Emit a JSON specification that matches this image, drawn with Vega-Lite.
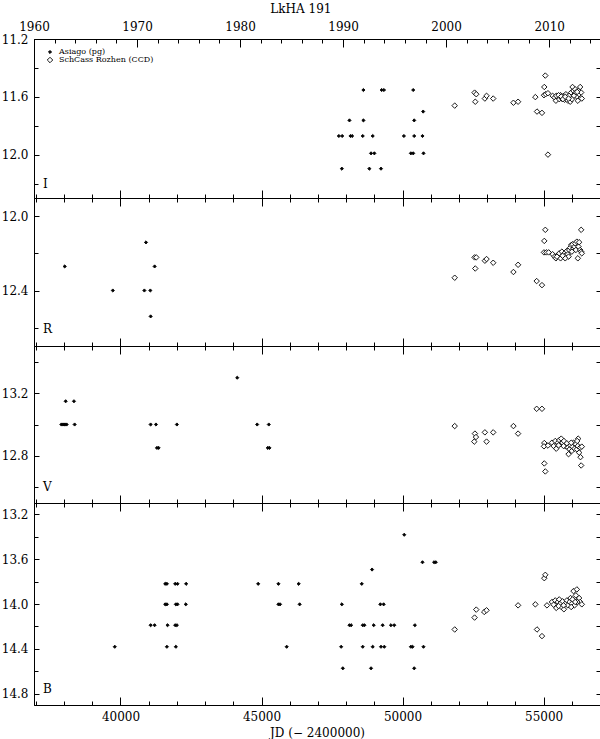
{
  "$schema": "https://vega.github.io/schema/vega-lite/v6.json",
  "title": {"text": "LkHA 191", "font": "DejaVu Serif", "fontSize": 12, "fontWeight": "normal", "color": "black", "anchor": "middle", "offset": 0},
  "padding": {"left": 0, "top": 2, "right": 2, "bottom": 0},
  "datasets": {
    "phot": [
      {"jd":48613,"mag":11.553,"band":"I","source":"Asiago (pg)"},
      {"jd":49260,"mag":11.553,"band":"I","source":"Asiago (pg)"},
      {"jd":49342,"mag":11.553,"band":"I","source":"Asiago (pg)"},
      {"jd":50378,"mag":11.553,"band":"I","source":"Asiago (pg)"},
      {"jd":48118,"mag":11.763,"band":"I","source":"Asiago (pg)"},
      {"jd":48613,"mag":11.763,"band":"I","source":"Asiago (pg)"},
      {"jd":50413,"mag":11.763,"band":"I","source":"Asiago (pg)"},
      {"jd":50731,"mag":11.702,"band":"I","source":"Asiago (pg)"},
      {"jd":47742,"mag":11.871,"band":"I","source":"Asiago (pg)"},
      {"jd":47860,"mag":11.871,"band":"I","source":"Asiago (pg)"},
      {"jd":48154,"mag":11.871,"band":"I","source":"Asiago (pg)"},
      {"jd":48213,"mag":11.871,"band":"I","source":"Asiago (pg)"},
      {"jd":48589,"mag":11.871,"band":"I","source":"Asiago (pg)"},
      {"jd":48942,"mag":11.871,"band":"I","source":"Asiago (pg)"},
      {"jd":50048,"mag":11.871,"band":"I","source":"Asiago (pg)"},
      {"jd":50413,"mag":11.871,"band":"I","source":"Asiago (pg)"},
      {"jd":50707,"mag":11.871,"band":"I","source":"Asiago (pg)"},
      {"jd":48883,"mag":11.991,"band":"I","source":"Asiago (pg)"},
      {"jd":49001,"mag":11.991,"band":"I","source":"Asiago (pg)"},
      {"jd":50295,"mag":11.991,"band":"I","source":"Asiago (pg)"},
      {"jd":50378,"mag":11.991,"band":"I","source":"Asiago (pg)"},
      {"jd":50743,"mag":11.991,"band":"I","source":"Asiago (pg)"},
      {"jd":47848,"mag":12.097,"band":"I","source":"Asiago (pg)"},
      {"jd":48824,"mag":12.097,"band":"I","source":"Asiago (pg)"},
      {"jd":49236,"mag":12.097,"band":"I","source":"Asiago (pg)"},

      {"jd":51849,"mag":11.661,"band":"I","source":"SchCass Rozhen (CCD)"},
      {"jd":52554,"mag":11.571,"band":"I","source":"SchCass Rozhen (CCD)"},
      {"jd":52613,"mag":11.582,"band":"I","source":"SchCass Rozhen (CCD)"},
      {"jd":52578,"mag":11.634,"band":"I","source":"SchCass Rozhen (CCD)"},
      {"jd":52919,"mag":11.612,"band":"I","source":"SchCass Rozhen (CCD)"},
      {"jd":52978,"mag":11.593,"band":"I","source":"SchCass Rozhen (CCD)"},
      {"jd":53214,"mag":11.612,"band":"I","source":"SchCass Rozhen (CCD)"},
      {"jd":53931,"mag":11.641,"band":"I","source":"SchCass Rozhen (CCD)"},
      {"jd":54096,"mag":11.634,"band":"I","source":"SchCass Rozhen (CCD)"},
      {"jd":54708,"mag":11.602,"band":"I","source":"SchCass Rozhen (CCD)"},
      {"jd":54767,"mag":11.702,"band":"I","source":"SchCass Rozhen (CCD)"},
      {"jd":54943,"mag":11.711,"band":"I","source":"SchCass Rozhen (CCD)"},
      {"jd":55061,"mag":11.453,"band":"I","source":"SchCass Rozhen (CCD)"},
      {"jd":55025,"mag":11.532,"band":"I","source":"SchCass Rozhen (CCD)"},
      {"jd":55014,"mag":11.589,"band":"I","source":"SchCass Rozhen (CCD)"},
      {"jd":55073,"mag":11.582,"band":"I","source":"SchCass Rozhen (CCD)"},
      {"jd":55155,"mag":11.575,"band":"I","source":"SchCass Rozhen (CCD)"},
      {"jd":55155,"mag":12.0,"band":"I","source":"SchCass Rozhen (CCD)"},
      {"jd":55320,"mag":11.593,"band":"I","source":"SchCass Rozhen (CCD)"},
      {"jd":55390,"mag":11.605,"band":"I","source":"SchCass Rozhen (CCD)"},
      {"jd":55437,"mag":11.627,"band":"I","source":"SchCass Rozhen (CCD)"},
      {"jd":55508,"mag":11.598,"band":"I","source":"SchCass Rozhen (CCD)"},
      {"jd":55555,"mag":11.616,"band":"I","source":"SchCass Rozhen (CCD)"},
      {"jd":55602,"mag":11.589,"band":"I","source":"SchCass Rozhen (CCD)"},
      {"jd":55649,"mag":11.612,"band":"I","source":"SchCass Rozhen (CCD)"},
      {"jd":55708,"mag":11.593,"band":"I","source":"SchCass Rozhen (CCD)"},
      {"jd":55743,"mag":11.62,"band":"I","source":"SchCass Rozhen (CCD)"},
      {"jd":55790,"mag":11.582,"band":"I","source":"SchCass Rozhen (CCD)"},
      {"jd":55826,"mag":11.605,"band":"I","source":"SchCass Rozhen (CCD)"},
      {"jd":55861,"mag":11.627,"band":"I","source":"SchCass Rozhen (CCD)"},
      {"jd":55908,"mag":11.593,"band":"I","source":"SchCass Rozhen (CCD)"},
      {"jd":55944,"mag":11.634,"band":"I","source":"SchCass Rozhen (CCD)"},
      {"jd":55979,"mag":11.57,"band":"I","source":"SchCass Rozhen (CCD)"},
      {"jd":56026,"mag":11.532,"band":"I","source":"SchCass Rozhen (CCD)"},
      {"jd":56061,"mag":11.559,"band":"I","source":"SchCass Rozhen (CCD)"},
      {"jd":56096,"mag":11.582,"band":"I","source":"SchCass Rozhen (CCD)"},
      {"jd":56120,"mag":11.548,"band":"I","source":"SchCass Rozhen (CCD)"},
      {"jd":56144,"mag":11.57,"band":"I","source":"SchCass Rozhen (CCD)"},
      {"jd":56179,"mag":11.598,"band":"I","source":"SchCass Rozhen (CCD)"},
      {"jd":56214,"mag":11.627,"band":"I","source":"SchCass Rozhen (CCD)"},
      {"jd":56238,"mag":11.559,"band":"I","source":"SchCass Rozhen (CCD)"},
      {"jd":56261,"mag":11.582,"band":"I","source":"SchCass Rozhen (CCD)"},
      {"jd":56297,"mag":11.532,"band":"I","source":"SchCass Rozhen (CCD)"},
      {"jd":56332,"mag":11.57,"band":"I","source":"SchCass Rozhen (CCD)"},
      {"jd":56355,"mag":11.612,"band":"I","source":"SchCass Rozhen (CCD)"},
      {"jd":56191,"mag":11.566,"band":"I","source":"SchCass Rozhen (CCD)"},
      {"jd":56073,"mag":11.593,"band":"I","source":"SchCass Rozhen (CCD)"},
      {"jd":56002,"mag":11.616,"band":"I","source":"SchCass Rozhen (CCD)"},
      {"jd":55449,"mag":11.593,"band":"I","source":"SchCass Rozhen (CCD)"},
      {"jd":55531,"mag":11.589,"band":"I","source":"SchCass Rozhen (CCD)"},
      {"jd":55626,"mag":11.598,"band":"I","source":"SchCass Rozhen (CCD)"},
      {"jd":55685,"mag":11.616,"band":"I","source":"SchCass Rozhen (CCD)"},
      {"jd":55767,"mag":11.6,"band":"I","source":"SchCass Rozhen (CCD)"},
      {"jd":55885,"mag":11.612,"band":"I","source":"SchCass Rozhen (CCD)"},

      {"jd":38023,"mag":12.27,"band":"R","source":"Asiago (pg)"},
      {"jd":39728,"mag":12.40,"band":"R","source":"Asiago (pg)"},
      {"jd":40847,"mag":12.40,"band":"R","source":"Asiago (pg)"},
      {"jd":41059,"mag":12.40,"band":"R","source":"Asiago (pg)"},
      {"jd":40904,"mag":12.14,"band":"R","source":"Asiago (pg)"},
      {"jd":41211,"mag":12.27,"band":"R","source":"Asiago (pg)"},
      {"jd":41070,"mag":12.54,"band":"R","source":"Asiago (pg)"},

      {"jd":51849,"mag":12.331,"band":"R","source":"SchCass Rozhen (CCD)"},
      {"jd":52554,"mag":12.221,"band":"R","source":"SchCass Rozhen (CCD)"},
      {"jd":52613,"mag":12.221,"band":"R","source":"SchCass Rozhen (CCD)"},
      {"jd":52578,"mag":12.281,"band":"R","source":"SchCass Rozhen (CCD)"},
      {"jd":52919,"mag":12.239,"band":"R","source":"SchCass Rozhen (CCD)"},
      {"jd":52978,"mag":12.23,"band":"R","source":"SchCass Rozhen (CCD)"},
      {"jd":53214,"mag":12.25,"band":"R","source":"SchCass Rozhen (CCD)"},
      {"jd":53931,"mag":12.30,"band":"R","source":"SchCass Rozhen (CCD)"},
      {"jd":54096,"mag":12.261,"band":"R","source":"SchCass Rozhen (CCD)"},
      {"jd":54755,"mag":12.349,"band":"R","source":"SchCass Rozhen (CCD)"},
      {"jd":54943,"mag":12.371,"band":"R","source":"SchCass Rozhen (CCD)"},
      {"jd":55061,"mag":12.072,"band":"R","source":"SchCass Rozhen (CCD)"},
      {"jd":55025,"mag":12.132,"band":"R","source":"SchCass Rozhen (CCD)"},
      {"jd":55014,"mag":12.194,"band":"R","source":"SchCass Rozhen (CCD)"},
      {"jd":55096,"mag":12.194,"band":"R","source":"SchCass Rozhen (CCD)"},
      {"jd":55179,"mag":12.194,"band":"R","source":"SchCass Rozhen (CCD)"},
      {"jd":56332,"mag":12.072,"band":"R","source":"SchCass Rozhen (CCD)"},
      {"jd":55320,"mag":12.204,"band":"R","source":"SchCass Rozhen (CCD)"},
      {"jd":55390,"mag":12.217,"band":"R","source":"SchCass Rozhen (CCD)"},
      {"jd":55437,"mag":12.226,"band":"R","source":"SchCass Rozhen (CCD)"},
      {"jd":55508,"mag":12.208,"band":"R","source":"SchCass Rozhen (CCD)"},
      {"jd":55555,"mag":12.199,"band":"R","source":"SchCass Rozhen (CCD)"},
      {"jd":55602,"mag":12.226,"band":"R","source":"SchCass Rozhen (CCD)"},
      {"jd":55649,"mag":12.19,"band":"R","source":"SchCass Rozhen (CCD)"},
      {"jd":55708,"mag":12.217,"band":"R","source":"SchCass Rozhen (CCD)"},
      {"jd":55743,"mag":12.199,"band":"R","source":"SchCass Rozhen (CCD)"},
      {"jd":55790,"mag":12.208,"band":"R","source":"SchCass Rozhen (CCD)"},
      {"jd":55826,"mag":12.186,"band":"R","source":"SchCass Rozhen (CCD)"},
      {"jd":55861,"mag":12.204,"band":"R","source":"SchCass Rozhen (CCD)"},
      {"jd":55908,"mag":12.181,"band":"R","source":"SchCass Rozhen (CCD)"},
      {"jd":55944,"mag":12.168,"band":"R","source":"SchCass Rozhen (CCD)"},
      {"jd":55979,"mag":12.154,"band":"R","source":"SchCass Rozhen (CCD)"},
      {"jd":56026,"mag":12.15,"band":"R","source":"SchCass Rozhen (CCD)"},
      {"jd":56061,"mag":12.172,"band":"R","source":"SchCass Rozhen (CCD)"},
      {"jd":56096,"mag":12.163,"band":"R","source":"SchCass Rozhen (CCD)"},
      {"jd":56120,"mag":12.145,"band":"R","source":"SchCass Rozhen (CCD)"},
      {"jd":56144,"mag":12.181,"band":"R","source":"SchCass Rozhen (CCD)"},
      {"jd":56179,"mag":12.136,"band":"R","source":"SchCass Rozhen (CCD)"},
      {"jd":56214,"mag":12.226,"band":"R","source":"SchCass Rozhen (CCD)"},
      {"jd":56238,"mag":12.163,"band":"R","source":"SchCass Rozhen (CCD)"},
      {"jd":56261,"mag":12.139,"band":"R","source":"SchCass Rozhen (CCD)"},
      {"jd":56297,"mag":12.181,"band":"R","source":"SchCass Rozhen (CCD)"},
      {"jd":56332,"mag":12.19,"band":"R","source":"SchCass Rozhen (CCD)"},
      {"jd":56355,"mag":12.199,"band":"R","source":"SchCass Rozhen (CCD)"},
      {"jd":56002,"mag":12.19,"band":"R","source":"SchCass Rozhen (CCD)"},
      {"jd":55885,"mag":12.217,"band":"R","source":"SchCass Rozhen (CCD)"},
      {"jd":55767,"mag":12.226,"band":"R","source":"SchCass Rozhen (CCD)"},
      {"jd":55473,"mag":12.217,"band":"R","source":"SchCass Rozhen (CCD)"},
      {"jd":55673,"mag":12.212,"band":"R","source":"SchCass Rozhen (CCD)"},

      {"jd":37904,"mag":13.0,"band":"V","source":"Asiago (pg)"},
      {"jd":37950,"mag":13.0,"band":"V","source":"Asiago (pg)"},
      {"jd":37998,"mag":13.0,"band":"V","source":"Asiago (pg)"},
      {"jd":38045,"mag":13.0,"band":"V","source":"Asiago (pg)"},
      {"jd":38092,"mag":13.0,"band":"V","source":"Asiago (pg)"},
      {"jd":38057,"mag":13.148,"band":"V","source":"Asiago (pg)"},
      {"jd":38351,"mag":13.148,"band":"V","source":"Asiago (pg)"},
      {"jd":38375,"mag":13.0,"band":"V","source":"Asiago (pg)"},
      {"jd":41069,"mag":13.0,"band":"V","source":"Asiago (pg)"},
      {"jd":41258,"mag":13.0,"band":"V","source":"Asiago (pg)"},
      {"jd":41293,"mag":12.851,"band":"V","source":"Asiago (pg)"},
      {"jd":41352,"mag":12.851,"band":"V","source":"Asiago (pg)"},
      {"jd":42000,"mag":13.0,"band":"V","source":"Asiago (pg)"},
      {"jd":44140,"mag":13.298,"band":"V","source":"Asiago (pg)"},
      {"jd":44846,"mag":13.0,"band":"V","source":"Asiago (pg)"},
      {"jd":45258,"mag":13.0,"band":"V","source":"Asiago (pg)"},
      {"jd":45223,"mag":12.851,"band":"V","source":"Asiago (pg)"},
      {"jd":45282,"mag":12.851,"band":"V","source":"Asiago (pg)"},

      {"jd":51849,"mag":12.99,"band":"V","source":"SchCass Rozhen (CCD)"},
      {"jd":52566,"mag":12.942,"band":"V","source":"SchCass Rozhen (CCD)"},
      {"jd":52602,"mag":12.92,"band":"V","source":"SchCass Rozhen (CCD)"},
      {"jd":52543,"mag":12.891,"band":"V","source":"SchCass Rozhen (CCD)"},
      {"jd":52919,"mag":12.95,"band":"V","source":"SchCass Rozhen (CCD)"},
      {"jd":52978,"mag":12.891,"band":"V","source":"SchCass Rozhen (CCD)"},
      {"jd":53214,"mag":12.95,"band":"V","source":"SchCass Rozhen (CCD)"},
      {"jd":53931,"mag":12.99,"band":"V","source":"SchCass Rozhen (CCD)"},
      {"jd":54096,"mag":12.942,"band":"V","source":"SchCass Rozhen (CCD)"},
      {"jd":54755,"mag":13.1,"band":"V","source":"SchCass Rozhen (CCD)"},
      {"jd":54943,"mag":13.1,"band":"V","source":"SchCass Rozhen (CCD)"},
      {"jd":55025,"mag":12.882,"band":"V","source":"SchCass Rozhen (CCD)"},
      {"jd":55014,"mag":12.861,"band":"V","source":"SchCass Rozhen (CCD)"},
      {"jd":55025,"mag":12.752,"band":"V","source":"SchCass Rozhen (CCD)"},
      {"jd":55061,"mag":12.701,"band":"V","source":"SchCass Rozhen (CCD)"},
      {"jd":55155,"mag":12.866,"band":"V","source":"SchCass Rozhen (CCD)"},
      {"jd":56332,"mag":12.739,"band":"V","source":"SchCass Rozhen (CCD)"},
      {"jd":56308,"mag":12.792,"band":"V","source":"SchCass Rozhen (CCD)"},
      {"jd":55885,"mag":12.811,"band":"V","source":"SchCass Rozhen (CCD)"},
      {"jd":56226,"mag":12.91,"band":"V","source":"SchCass Rozhen (CCD)"},
      {"jd":55296,"mag":12.884,"band":"V","source":"SchCass Rozhen (CCD)"},
      {"jd":55355,"mag":12.863,"band":"V","source":"SchCass Rozhen (CCD)"},
      {"jd":55414,"mag":12.895,"band":"V","source":"SchCass Rozhen (CCD)"},
      {"jd":55449,"mag":12.846,"band":"V","source":"SchCass Rozhen (CCD)"},
      {"jd":55508,"mag":12.884,"band":"V","source":"SchCass Rozhen (CCD)"},
      {"jd":55555,"mag":12.901,"band":"V","source":"SchCass Rozhen (CCD)"},
      {"jd":55590,"mag":12.874,"band":"V","source":"SchCass Rozhen (CCD)"},
      {"jd":55626,"mag":12.91,"band":"V","source":"SchCass Rozhen (CCD)"},
      {"jd":55673,"mag":12.884,"band":"V","source":"SchCass Rozhen (CCD)"},
      {"jd":55720,"mag":12.895,"band":"V","source":"SchCass Rozhen (CCD)"},
      {"jd":55767,"mag":12.863,"band":"V","source":"SchCass Rozhen (CCD)"},
      {"jd":55826,"mag":12.88,"band":"V","source":"SchCass Rozhen (CCD)"},
      {"jd":55861,"mag":12.853,"band":"V","source":"SchCass Rozhen (CCD)"},
      {"jd":55920,"mag":12.842,"band":"V","source":"SchCass Rozhen (CCD)"},
      {"jd":55955,"mag":12.867,"band":"V","source":"SchCass Rozhen (CCD)"},
      {"jd":56002,"mag":12.832,"band":"V","source":"SchCass Rozhen (CCD)"},
      {"jd":56026,"mag":12.859,"band":"V","source":"SchCass Rozhen (CCD)"},
      {"jd":56061,"mag":12.884,"band":"V","source":"SchCass Rozhen (CCD)"},
      {"jd":56096,"mag":12.846,"band":"V","source":"SchCass Rozhen (CCD)"},
      {"jd":56144,"mag":12.874,"band":"V","source":"SchCass Rozhen (CCD)"},
      {"jd":56179,"mag":12.842,"band":"V","source":"SchCass Rozhen (CCD)"},
      {"jd":56214,"mag":12.863,"band":"V","source":"SchCass Rozhen (CCD)"},
      {"jd":56261,"mag":12.821,"band":"V","source":"SchCass Rozhen (CCD)"},
      {"jd":56297,"mag":12.853,"band":"V","source":"SchCass Rozhen (CCD)"},
      {"jd":56355,"mag":12.859,"band":"V","source":"SchCass Rozhen (CCD)"},
      {"jd":55979,"mag":12.884,"band":"V","source":"SchCass Rozhen (CCD)"},
      {"jd":55708,"mag":12.863,"band":"V","source":"SchCass Rozhen (CCD)"},
      {"jd":55531,"mag":12.867,"band":"V","source":"SchCass Rozhen (CCD)"},
      {"jd":56191,"mag":12.895,"band":"V","source":"SchCass Rozhen (CCD)"},

      {"jd":39798,"mag":14.381,"band":"B","source":"Asiago (pg)"},
      {"jd":41069,"mag":14.189,"band":"B","source":"Asiago (pg)"},
      {"jd":41210,"mag":14.189,"band":"B","source":"Asiago (pg)"},
      {"jd":41587,"mag":13.82,"band":"B","source":"Asiago (pg)"},
      {"jd":41646,"mag":13.82,"band":"B","source":"Asiago (pg)"},
      {"jd":41587,"mag":14.003,"band":"B","source":"Asiago (pg)"},
      {"jd":41646,"mag":14.003,"band":"B","source":"Asiago (pg)"},
      {"jd":41669,"mag":14.189,"band":"B","source":"Asiago (pg)"},
      {"jd":41646,"mag":14.381,"band":"B","source":"Asiago (pg)"},
      {"jd":41940,"mag":13.82,"band":"B","source":"Asiago (pg)"},
      {"jd":42022,"mag":13.82,"band":"B","source":"Asiago (pg)"},
      {"jd":41963,"mag":14.003,"band":"B","source":"Asiago (pg)"},
      {"jd":42022,"mag":14.003,"band":"B","source":"Asiago (pg)"},
      {"jd":41940,"mag":14.189,"band":"B","source":"Asiago (pg)"},
      {"jd":41999,"mag":14.189,"band":"B","source":"Asiago (pg)"},
      {"jd":41963,"mag":14.381,"band":"B","source":"Asiago (pg)"},
      {"jd":42328,"mag":13.82,"band":"B","source":"Asiago (pg)"},
      {"jd":42316,"mag":14.003,"band":"B","source":"Asiago (pg)"},
      {"jd":44882,"mag":13.82,"band":"B","source":"Asiago (pg)"},
      {"jd":45600,"mag":13.82,"band":"B","source":"Asiago (pg)"},
      {"jd":45600,"mag":14.003,"band":"B","source":"Asiago (pg)"},
      {"jd":45658,"mag":14.003,"band":"B","source":"Asiago (pg)"},
      {"jd":45893,"mag":14.381,"band":"B","source":"Asiago (pg)"},
      {"jd":46317,"mag":13.82,"band":"B","source":"Asiago (pg)"},
      {"jd":46352,"mag":14.003,"band":"B","source":"Asiago (pg)"},
      {"jd":47848,"mag":14.003,"band":"B","source":"Asiago (pg)"},
      {"jd":47824,"mag":14.381,"band":"B","source":"Asiago (pg)"},
      {"jd":47883,"mag":14.573,"band":"B","source":"Asiago (pg)"},
      {"jd":48118,"mag":14.189,"band":"B","source":"Asiago (pg)"},
      {"jd":48177,"mag":14.189,"band":"B","source":"Asiago (pg)"},
      {"jd":48554,"mag":13.82,"band":"B","source":"Asiago (pg)"},
      {"jd":48589,"mag":14.189,"band":"B","source":"Asiago (pg)"},
      {"jd":48648,"mag":14.189,"band":"B","source":"Asiago (pg)"},
      {"jd":48589,"mag":14.381,"band":"B","source":"Asiago (pg)"},
      {"jd":48919,"mag":13.693,"band":"B","source":"Asiago (pg)"},
      {"jd":48883,"mag":14.573,"band":"B","source":"Asiago (pg)"},
      {"jd":48942,"mag":14.381,"band":"B","source":"Asiago (pg)"},
      {"jd":48977,"mag":14.189,"band":"B","source":"Asiago (pg)"},
      {"jd":49213,"mag":14.003,"band":"B","source":"Asiago (pg)"},
      {"jd":49330,"mag":14.003,"band":"B","source":"Asiago (pg)"},
      {"jd":49295,"mag":14.189,"band":"B","source":"Asiago (pg)"},
      {"jd":49236,"mag":14.381,"band":"B","source":"Asiago (pg)"},
      {"jd":49354,"mag":14.381,"band":"B","source":"Asiago (pg)"},
      {"jd":49589,"mag":14.189,"band":"B","source":"Asiago (pg)"},
      {"jd":49707,"mag":14.189,"band":"B","source":"Asiago (pg)"},
      {"jd":50060,"mag":13.383,"band":"B","source":"Asiago (pg)"},
      {"jd":50295,"mag":14.381,"band":"B","source":"Asiago (pg)"},
      {"jd":50354,"mag":14.381,"band":"B","source":"Asiago (pg)"},
      {"jd":50437,"mag":14.189,"band":"B","source":"Asiago (pg)"},
      {"jd":50413,"mag":14.573,"band":"B","source":"Asiago (pg)"},
      {"jd":50707,"mag":13.628,"band":"B","source":"Asiago (pg)"},
      {"jd":50742,"mag":14.381,"band":"B","source":"Asiago (pg)"},
      {"jd":51119,"mag":13.628,"band":"B","source":"Asiago (pg)"},
      {"jd":51178,"mag":13.628,"band":"B","source":"Asiago (pg)"},

      {"jd":51849,"mag":14.227,"band":"B","source":"SchCass Rozhen (CCD)"},
      {"jd":52554,"mag":14.121,"band":"B","source":"SchCass Rozhen (CCD)"},
      {"jd":52613,"mag":14.05,"band":"B","source":"SchCass Rozhen (CCD)"},
      {"jd":52896,"mag":14.071,"band":"B","source":"SchCass Rozhen (CCD)"},
      {"jd":52978,"mag":14.056,"band":"B","source":"SchCass Rozhen (CCD)"},
      {"jd":54096,"mag":14.012,"band":"B","source":"SchCass Rozhen (CCD)"},
      {"jd":54708,"mag":14.003,"band":"B","source":"SchCass Rozhen (CCD)"},
      {"jd":54767,"mag":14.227,"band":"B","source":"SchCass Rozhen (CCD)"},
      {"jd":54943,"mag":14.286,"band":"B","source":"SchCass Rozhen (CCD)"},
      {"jd":55025,"mag":13.77,"band":"B","source":"SchCass Rozhen (CCD)"},
      {"jd":55061,"mag":13.74,"band":"B","source":"SchCass Rozhen (CCD)"},
      {"jd":55120,"mag":14.012,"band":"B","source":"SchCass Rozhen (CCD)"},
      {"jd":55296,"mag":13.982,"band":"B","source":"SchCass Rozhen (CCD)"},
      {"jd":55355,"mag":14.006,"band":"B","source":"SchCass Rozhen (CCD)"},
      {"jd":55414,"mag":13.968,"band":"B","source":"SchCass Rozhen (CCD)"},
      {"jd":55449,"mag":14.035,"band":"B","source":"SchCass Rozhen (CCD)"},
      {"jd":55508,"mag":13.982,"band":"B","source":"SchCass Rozhen (CCD)"},
      {"jd":55555,"mag":13.959,"band":"B","source":"SchCass Rozhen (CCD)"},
      {"jd":55590,"mag":13.997,"band":"B","source":"SchCass Rozhen (CCD)"},
      {"jd":55626,"mag":14.027,"band":"B","source":"SchCass Rozhen (CCD)"},
      {"jd":55673,"mag":13.976,"band":"B","source":"SchCass Rozhen (CCD)"},
      {"jd":55720,"mag":14.047,"band":"B","source":"SchCass Rozhen (CCD)"},
      {"jd":55767,"mag":13.997,"band":"B","source":"SchCass Rozhen (CCD)"},
      {"jd":55826,"mag":13.968,"band":"B","source":"SchCass Rozhen (CCD)"},
      {"jd":55861,"mag":14.012,"band":"B","source":"SchCass Rozhen (CCD)"},
      {"jd":55920,"mag":13.982,"band":"B","source":"SchCass Rozhen (CCD)"},
      {"jd":55955,"mag":13.947,"band":"B","source":"SchCass Rozhen (CCD)"},
      {"jd":56002,"mag":13.997,"band":"B","source":"SchCass Rozhen (CCD)"},
      {"jd":56026,"mag":13.959,"band":"B","source":"SchCass Rozhen (CCD)"},
      {"jd":56061,"mag":13.885,"band":"B","source":"SchCass Rozhen (CCD)"},
      {"jd":56096,"mag":14.012,"band":"B","source":"SchCass Rozhen (CCD)"},
      {"jd":56144,"mag":13.923,"band":"B","source":"SchCass Rozhen (CCD)"},
      {"jd":56179,"mag":13.87,"band":"B","source":"SchCass Rozhen (CCD)"},
      {"jd":56214,"mag":13.968,"band":"B","source":"SchCass Rozhen (CCD)"},
      {"jd":56261,"mag":13.947,"band":"B","source":"SchCass Rozhen (CCD)"},
      {"jd":56297,"mag":13.982,"band":"B","source":"SchCass Rozhen (CCD)"},
      {"jd":56355,"mag":14.003,"band":"B","source":"SchCass Rozhen (CCD)"},
      {"jd":55979,"mag":14.027,"band":"B","source":"SchCass Rozhen (CCD)"},
      {"jd":55708,"mag":14.012,"band":"B","source":"SchCass Rozhen (CCD)"},
      {"jd":55531,"mag":14.018,"band":"B","source":"SchCass Rozhen (CCD)"},
      {"jd":56191,"mag":13.982,"band":"B","source":"SchCass Rozhen (CCD)"},
      {"jd":56120,"mag":13.982,"band":"B","source":"SchCass Rozhen (CCD)"}
    ]
  },
  "data": {"name": "phot"},
  "spacing": 0,
  "bounds": "flush",
  "resolve": {"legend": {"fill": "independent", "size": "independent", "stroke": "independent"}},
  "vconcat": [
    {
      "width": 566, "height": 159,
      "resolve": {"axis": {"x": "independent", "y": "independent"}},
      "layer": [
        {
          "transform": [{"filter": "datum.band === 'I'"}],
          "mark": {"type": "point", "shape": "diamond", "filled": true, "strokeWidth": 0.9, "opacity": 1},
          "encoding": {
            "x": {"field": "jd", "type": "quantitative", "scale": {"domain": [36934.5, 57000], "nice": false, "zero": false},
                  "axis": {"orient": "bottom", "values": [37000,38000,39000,40000,41000,42000,43000,44000,45000,46000,47000,48000,49000,50000,51000,52000,53000,54000,55000,56000,57000], "labels": false, "title": null,
                           "tickSize": {"condition": {"test": "datum.value % 5000 === 0", "value": -8}, "value": -4}}},
            "y": {"field": "mag", "type": "quantitative", "scale": {"domain": [11.2, 12.3], "reverse": true, "nice": false, "zero": false},
                  "axis": {"orient": "left", "values": [11.2,11.4,11.6,11.8,12.0,12.2], "title": null, "labelPadding": 11,
                           "labelExpr": "abs(datum.value/0.4 - round(datum.value/0.4)) < 0.01 ? format(datum.value, '.1f') : ''",
                           "tickSize": {"condition": {"test": "abs(datum.value/0.4 - round(datum.value/0.4)) < 0.01", "value": -5}, "value": -4}}},
            "fill": {"field": "source", "type": "nominal", "scale": {"domain": ["Asiago (pg)", "SchCass Rozhen (CCD)"], "range": ["black", "white"]},
                     "legend": {"orient": "none", "legendX": 12, "legendY": 9, "title": null, "labelFontSize": 8, "labelFont": "DejaVu Serif", "labelColor": "black", "rowPadding": -2, "symbolType": "diamond", "symbolStrokeWidth": 0.9, "labelOffset": 5, "padding": 0}},
            "size": {"field": "source", "type": "nominal", "scale": {"domain": ["Asiago (pg)", "SchCass Rozhen (CCD)"], "range": [10, 30]},
                     "legend": {"orient": "none", "legendX": 12, "legendY": 9, "title": null, "labelFontSize": 8, "labelFont": "DejaVu Serif", "labelColor": "black", "rowPadding": -2, "symbolType": "diamond", "symbolStrokeWidth": 0.9, "labelOffset": 5, "padding": 0}},
            "stroke": {"field": "source", "type": "nominal", "scale": {"domain": ["Asiago (pg)", "SchCass Rozhen (CCD)"], "range": ["black", "black"]},
                     "legend": {"orient": "none", "legendX": 12, "legendY": 9, "title": null, "labelFontSize": 8, "labelFont": "DejaVu Serif", "labelColor": "black", "rowPadding": -2, "symbolType": "diamond", "symbolStrokeWidth": 0.9, "labelOffset": 5, "padding": 0}}
          }
        },
        {
          "data": {"values": [{}]},
          "mark": {"type": "text", "align": "left", "baseline": "middle", "fontSize": 12, "font": "DejaVu Serif", "color": "black", "text": "I"},
          "encoding": {
            "x": {"datum": 37250, "type": "quantitative",
                  "axis": {"orient": "top", "values": [36934.5,37665.5,38395.5,39126.5,39856.5,40587.5,41317.5,42048.5,42778.5,43509.5,44239.5,44970.5,45700.5,46431.5,47161.5,47892.5,48622.5,49353.5,50083.5,50814.5,51544.5,52275.5,53005.5,53736.5,54466.5,55197.5,55927.5,56658.5],
                           "title": null, "labelPadding": 14,
                           "labelExpr": "round(1960 + (datum.value - 36934.5)/365.25) % 10 === 0 ? format(round(1960 + (datum.value - 36934.5)/365.25), 'd') : ''",
                           "tickSize": {"condition": {"test": "round(1960 + (datum.value - 36934.5)/365.25) % 10 === 0", "value": -8}, "value": -4}}},
            "y": {"datum": 12.2, "type": "quantitative",
                  "axis": {"orient": "right", "values": [11.2,11.4,11.6,11.8,12.0,12.2], "labels": false, "title": null, "tickSize": -4}}
          }
        }
      ]
    },
    {
      "width": 566, "height": 148,
      "resolve": {"axis": {"x": "independent", "y": "independent"}},
      "layer": [
        {
          "transform": [{"filter": "datum.band === 'R'"}],
          "mark": {"type": "point", "shape": "diamond", "filled": true, "strokeWidth": 0.9, "opacity": 1},
          "encoding": {
            "x": {"field": "jd", "type": "quantitative", "scale": {"domain": [36934.5, 57000], "nice": false, "zero": false},
                  "axis": {"orient": "bottom", "values": [37000,38000,39000,40000,41000,42000,43000,44000,45000,46000,47000,48000,49000,50000,51000,52000,53000,54000,55000,56000,57000], "labels": false, "title": null,
                           "tickSize": {"condition": {"test": "datum.value % 5000 === 0", "value": -8}, "value": -4}}},
            "y": {"field": "mag", "type": "quantitative", "scale": {"domain": [11.9, 12.7], "reverse": true, "nice": false, "zero": false},
                  "axis": {"orient": "left", "values": [12.0,12.2,12.4,12.6], "title": null, "labelPadding": 11,
                           "labelExpr": "abs(datum.value/0.4 - round(datum.value/0.4)) < 0.01 ? format(datum.value, '.1f') : ''",
                           "tickSize": {"condition": {"test": "abs(datum.value/0.4 - round(datum.value/0.4)) < 0.01", "value": -5}, "value": -4}}},
            "fill": {"field": "source", "type": "nominal", "scale": {"domain": ["Asiago (pg)", "SchCass Rozhen (CCD)"], "range": ["black", "white"]}, "legend": null},
            "size": {"field": "source", "type": "nominal", "scale": {"domain": ["Asiago (pg)", "SchCass Rozhen (CCD)"], "range": [10, 30]}, "legend": null},
            "stroke": {"field": "source", "type": "nominal", "scale": {"domain": ["Asiago (pg)", "SchCass Rozhen (CCD)"], "range": ["black", "black"]}, "legend": null}
          }
        },
        {
          "data": {"values": [{}]},
          "mark": {"type": "text", "align": "left", "baseline": "middle", "fontSize": 12, "font": "DejaVu Serif", "color": "black", "text": "R"},
          "encoding": {
            "x": {"datum": 37250, "type": "quantitative",
                  "axis": {"orient": "top", "values": [37000,38000,39000,40000,41000,42000,43000,44000,45000,46000,47000,48000,49000,50000,51000,52000,53000,54000,55000,56000,57000], "labels": false, "title": null,
                           "tickSize": {"condition": {"test": "datum.value % 5000 === 0", "value": -8}, "value": -4}}},
            "y": {"datum": 12.61, "type": "quantitative",
                  "axis": {"orient": "right", "values": [12.0,12.2,12.4,12.6], "labels": false, "title": null, "tickSize": -4}}
          }
        }
      ]
    },
    {
      "width": 566, "height": 157,
      "resolve": {"axis": {"x": "independent", "y": "independent"}},
      "layer": [
        {
          "transform": [{"filter": "datum.band === 'V'"}],
          "mark": {"type": "point", "shape": "diamond", "filled": true, "strokeWidth": 0.9, "opacity": 1},
          "encoding": {
            "x": {"field": "jd", "type": "quantitative", "scale": {"domain": [36934.5, 57000], "nice": false, "zero": false},
                  "axis": {"orient": "bottom", "values": [37000,38000,39000,40000,41000,42000,43000,44000,45000,46000,47000,48000,49000,50000,51000,52000,53000,54000,55000,56000,57000], "labels": false, "title": null,
                           "tickSize": {"condition": {"test": "datum.value % 5000 === 0", "value": -8}, "value": -4}}},
            "y": {"field": "mag", "type": "quantitative", "scale": {"domain": [12.5, 13.5], "nice": false, "zero": false},
                  "axis": {"orient": "left", "values": [12.6,12.8,13.0,13.2,13.4], "title": null, "labelPadding": 11,
                           "labelExpr": "abs(datum.value/0.4 - round(datum.value/0.4)) < 0.01 ? format(datum.value, '.1f') : ''",
                           "tickSize": {"condition": {"test": "abs(datum.value/0.4 - round(datum.value/0.4)) < 0.01", "value": -5}, "value": -4}}},
            "fill": {"field": "source", "type": "nominal", "scale": {"domain": ["Asiago (pg)", "SchCass Rozhen (CCD)"], "range": ["black", "white"]}, "legend": null},
            "size": {"field": "source", "type": "nominal", "scale": {"domain": ["Asiago (pg)", "SchCass Rozhen (CCD)"], "range": [10, 30]}, "legend": null},
            "stroke": {"field": "source", "type": "nominal", "scale": {"domain": ["Asiago (pg)", "SchCass Rozhen (CCD)"], "range": ["black", "black"]}, "legend": null}
          }
        },
        {
          "data": {"values": [{}]},
          "mark": {"type": "text", "align": "left", "baseline": "middle", "fontSize": 12, "font": "DejaVu Serif", "color": "black", "text": "V"},
          "encoding": {
            "x": {"datum": 37250, "type": "quantitative",
                  "axis": {"orient": "top", "values": [37000,38000,39000,40000,41000,42000,43000,44000,45000,46000,47000,48000,49000,50000,51000,52000,53000,54000,55000,56000,57000], "labels": false, "title": null,
                           "tickSize": {"condition": {"test": "datum.value % 5000 === 0", "value": -8}, "value": -4}}},
            "y": {"datum": 12.6, "type": "quantitative",
                  "axis": {"orient": "right", "values": [12.6,12.8,13.0,13.2,13.4], "labels": false, "title": null, "tickSize": -4}}
          }
        }
      ]
    },
    {
      "width": 566, "height": 202,
      "resolve": {"axis": {"x": "independent", "y": "independent"}},
      "layer": [
        {
          "transform": [{"filter": "datum.band === 'B'"}],
          "mark": {"type": "point", "shape": "diamond", "filled": true, "strokeWidth": 0.9, "opacity": 1},
          "encoding": {
            "x": {"field": "jd", "type": "quantitative", "scale": {"domain": [36934.5, 57000], "nice": false, "zero": false},
                  "axis": {"orient": "bottom", "values": [37000,38000,39000,40000,41000,42000,43000,44000,45000,46000,47000,48000,49000,50000,51000,52000,53000,54000,55000,56000,57000],
                           "title": "JD (\u2212 2400000)", "titlePadding": 1, "labelPadding": 14,
                           "labelExpr": "datum.value % 5000 === 0 ? format(datum.value, 'd') : ''",
                           "tickSize": {"condition": {"test": "datum.value % 5000 === 0", "value": -8}, "value": -4}}},
            "y": {"field": "mag", "type": "quantitative", "scale": {"domain": [13.1, 14.9], "reverse": true, "nice": false, "zero": false},
                  "axis": {"orient": "left", "values": [13.2,13.4,13.6,13.8,14.0,14.2,14.4,14.6,14.8], "title": null, "labelPadding": 11,
                           "labelExpr": "abs(datum.value/0.4 - round(datum.value/0.4)) < 0.01 ? format(datum.value, '.1f') : ''",
                           "tickSize": {"condition": {"test": "abs(datum.value/0.4 - round(datum.value/0.4)) < 0.01", "value": -5}, "value": -4}}},
            "fill": {"field": "source", "type": "nominal", "scale": {"domain": ["Asiago (pg)", "SchCass Rozhen (CCD)"], "range": ["black", "white"]}, "legend": null},
            "size": {"field": "source", "type": "nominal", "scale": {"domain": ["Asiago (pg)", "SchCass Rozhen (CCD)"], "range": [10, 30]}, "legend": null},
            "stroke": {"field": "source", "type": "nominal", "scale": {"domain": ["Asiago (pg)", "SchCass Rozhen (CCD)"], "range": ["black", "black"]}, "legend": null}
          }
        },
        {
          "data": {"values": [{}]},
          "mark": {"type": "text", "align": "left", "baseline": "middle", "fontSize": 12, "font": "DejaVu Serif", "color": "black", "text": "B"},
          "encoding": {
            "x": {"datum": 37250, "type": "quantitative",
                  "axis": {"orient": "top", "values": [37000,38000,39000,40000,41000,42000,43000,44000,45000,46000,47000,48000,49000,50000,51000,52000,53000,54000,55000,56000,57000], "labels": false, "title": null,
                           "tickSize": {"condition": {"test": "datum.value % 5000 === 0", "value": -8}, "value": -4}}},
            "y": {"datum": 14.76, "type": "quantitative",
                  "axis": {"orient": "right", "values": [13.2,13.4,13.6,13.8,14.0,14.2,14.4,14.6,14.8], "labels": false, "title": null, "tickSize": -4}}
          }
        }
      ]
    }
  ],
  "config": {
    "font": "DejaVu Serif",
    "view": {"stroke": "black", "strokeWidth": 1},
    "axis": {"labelFont": "DejaVu Serif", "labelFontSize": 12, "labelColor": "black", "tickColor": "black", "domainColor": "black", "domainWidth": 1, "tickWidth": 1, "grid": false, "labelFlush": false, "labelOverlap": false, "labelBound": false, "titleFont": "DejaVu Serif", "titleFontSize": 12, "titleFontWeight": "normal", "titleColor": "black"}
  }
}
